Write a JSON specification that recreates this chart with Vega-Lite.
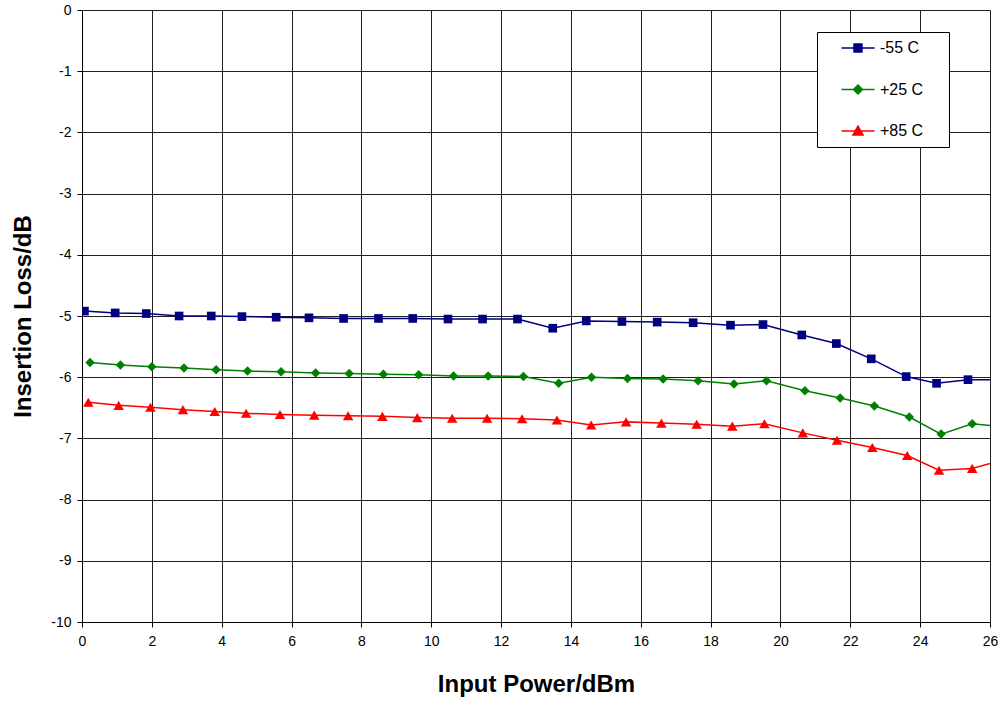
{
  "$schema": "https://vega.github.io/schema/vega-lite/v6.json",
  "width": 908,
  "height": 612,
  "autosize": "none",
  "padding": {"left": 82, "top": 10, "right": 12, "bottom": 80},
  "background": "#ffffff",
  "config": {
    "view": {"stroke": null},
    "font": "Liberation Sans"
  },
  "data": {
    "values": [
      {"t": "-55 C", "p": 0.07, "il": -4.92},
      {"t": "-55 C", "p": 0.95, "il": -4.95},
      {"t": "-55 C", "p": 1.84, "il": -4.96},
      {"t": "-55 C", "p": 2.78, "il": -5.0},
      {"t": "-55 C", "p": 3.7, "il": -5.0},
      {"t": "-55 C", "p": 4.58, "il": -5.01},
      {"t": "-55 C", "p": 5.56, "il": -5.02},
      {"t": "-55 C", "p": 6.5, "il": -5.03},
      {"t": "-55 C", "p": 7.49, "il": -5.04},
      {"t": "-55 C", "p": 8.49, "il": -5.04},
      {"t": "-55 C", "p": 9.47, "il": -5.04},
      {"t": "-55 C", "p": 10.48, "il": -5.05},
      {"t": "-55 C", "p": 11.47, "il": -5.05},
      {"t": "-55 C", "p": 12.47, "il": -5.05},
      {"t": "-55 C", "p": 13.48, "il": -5.2},
      {"t": "-55 C", "p": 14.44, "il": -5.08},
      {"t": "-55 C", "p": 15.46, "il": -5.09},
      {"t": "-55 C", "p": 16.47, "il": -5.1},
      {"t": "-55 C", "p": 17.5, "il": -5.11},
      {"t": "-55 C", "p": 18.57, "il": -5.15},
      {"t": "-55 C", "p": 19.5, "il": -5.14},
      {"t": "-55 C", "p": 20.61, "il": -5.31},
      {"t": "-55 C", "p": 21.6, "il": -5.45},
      {"t": "-55 C", "p": 22.6, "il": -5.7},
      {"t": "-55 C", "p": 23.6, "il": -5.99},
      {"t": "-55 C", "p": 24.47, "il": -6.1},
      {"t": "-55 C", "p": 25.37, "il": -6.04},
      {"t": "-55 C", "p": 26.3, "il": -6.04},
      {"t": "+25 C", "p": 0.23, "il": -5.76},
      {"t": "+25 C", "p": 1.1, "il": -5.8},
      {"t": "+25 C", "p": 2.0, "il": -5.83},
      {"t": "+25 C", "p": 2.92, "il": -5.85},
      {"t": "+25 C", "p": 3.84, "il": -5.88},
      {"t": "+25 C", "p": 4.74, "il": -5.9},
      {"t": "+25 C", "p": 5.7, "il": -5.91},
      {"t": "+25 C", "p": 6.69, "il": -5.93},
      {"t": "+25 C", "p": 7.65, "il": -5.94},
      {"t": "+25 C", "p": 8.63, "il": -5.95},
      {"t": "+25 C", "p": 9.64, "il": -5.96},
      {"t": "+25 C", "p": 10.64, "il": -5.98},
      {"t": "+25 C", "p": 11.63, "il": -5.98},
      {"t": "+25 C", "p": 12.64, "il": -5.99},
      {"t": "+25 C", "p": 13.65, "il": -6.1},
      {"t": "+25 C", "p": 14.59, "il": -6.0},
      {"t": "+25 C", "p": 15.62, "il": -6.02},
      {"t": "+25 C", "p": 16.64, "il": -6.03},
      {"t": "+25 C", "p": 17.64, "il": -6.06},
      {"t": "+25 C", "p": 18.67, "il": -6.11},
      {"t": "+25 C", "p": 19.6, "il": -6.06},
      {"t": "+25 C", "p": 20.7, "il": -6.22},
      {"t": "+25 C", "p": 21.71, "il": -6.34},
      {"t": "+25 C", "p": 22.69, "il": -6.47},
      {"t": "+25 C", "p": 23.69, "il": -6.65},
      {"t": "+25 C", "p": 24.6, "il": -6.93},
      {"t": "+25 C", "p": 25.49, "il": -6.76},
      {"t": "+25 C", "p": 26.4, "il": -6.81},
      {"t": "+85 C", "p": 0.18, "il": -6.41},
      {"t": "+85 C", "p": 1.05, "il": -6.46},
      {"t": "+85 C", "p": 1.96, "il": -6.49},
      {"t": "+85 C", "p": 2.89, "il": -6.53},
      {"t": "+85 C", "p": 3.8, "il": -6.56},
      {"t": "+85 C", "p": 4.7, "il": -6.59},
      {"t": "+85 C", "p": 5.67, "il": -6.61},
      {"t": "+85 C", "p": 6.65, "il": -6.62},
      {"t": "+85 C", "p": 7.62, "il": -6.63},
      {"t": "+85 C", "p": 8.6, "il": -6.64},
      {"t": "+85 C", "p": 9.6, "il": -6.66},
      {"t": "+85 C", "p": 10.6, "il": -6.67},
      {"t": "+85 C", "p": 11.6, "il": -6.67},
      {"t": "+85 C", "p": 12.6, "il": -6.68},
      {"t": "+85 C", "p": 13.6, "il": -6.7},
      {"t": "+85 C", "p": 14.58, "il": -6.78},
      {"t": "+85 C", "p": 15.58, "il": -6.73},
      {"t": "+85 C", "p": 16.59, "il": -6.75},
      {"t": "+85 C", "p": 17.6, "il": -6.77},
      {"t": "+85 C", "p": 18.62, "il": -6.8},
      {"t": "+85 C", "p": 19.54, "il": -6.76},
      {"t": "+85 C", "p": 20.64, "il": -6.91},
      {"t": "+85 C", "p": 21.62, "il": -7.03},
      {"t": "+85 C", "p": 22.63, "il": -7.15},
      {"t": "+85 C", "p": 23.63, "il": -7.28},
      {"t": "+85 C", "p": 24.54, "il": -7.52},
      {"t": "+85 C", "p": 25.49, "il": -7.49},
      {"t": "+85 C", "p": 26.4, "il": -7.35}
    ]
  },
  "encoding": {
    "x": {
      "field": "p",
      "type": "quantitative",
      "title": "Input Power/dBm",
      "scale": {"domain": [0, 26], "nice": false, "zero": false},
      "axis": {
        "values": [0, 2, 4, 6, 8, 10, 12, 14, 16, 18, 20, 22, 24, 26],
        "grid": true,
        "gridColor": "#202020",
        "gridWidth": 1,
        "domainColor": "#000000",
        "domainWidth": 1,
        "tickColor": "#000000",
        "tickSize": 5,
        "labelFont": "Liberation Sans",
        "labelFontSize": 14,
        "labelColor": "#000000",
        "labelPadding": 7,
        "labelFlush": false,
        "labelOverlap": false,
        "titleFont": "Liberation Sans",
        "titleFontSize": 24,
        "titleFontWeight": "bold",
        "titleColor": "#000000",
        "titleBaseline": "middle",
        "titleY": 62
      }
    },
    "y": {
      "field": "il",
      "type": "quantitative",
      "title": "Insertion Loss/dB",
      "scale": {"domain": [-10, 0], "nice": false, "zero": false},
      "axis": {
        "values": [-10, -9, -8, -7, -6, -5, -4, -3, -2, -1, 0],
        "labelExpr": "'' + datum.value",
        "grid": true,
        "gridColor": "#202020",
        "gridWidth": 1,
        "domainColor": "#000000",
        "domainWidth": 1,
        "tickColor": "#000000",
        "tickSize": 5,
        "labelFont": "Liberation Sans",
        "labelFontSize": 14,
        "labelColor": "#000000",
        "labelPadding": 6,
        "labelFlush": false,
        "labelOverlap": false,
        "titleFont": "Liberation Sans",
        "titleFontSize": 24,
        "titleFontWeight": "bold",
        "titleColor": "#000000",
        "titleBaseline": "middle",
        "titleAngle": -90,
        "titleX": -59,
        "titleY": 306
      }
    },
    "color": {
      "field": "t",
      "type": "nominal",
      "scale": {"domain": ["-55 C", "+25 C", "+85 C"], "range": ["#000080", "#008000", "#ff0000"]},
      "legend": {
        "orient": "none",
        "legendX": 735,
        "legendY": 22,
        "title": "\u00a0",
        "titleOrient": "right",
        "titlePadding": 18,
        "titleFontSize": 16,
        "titleFont": "Liberation Sans",
        "padding": 8,
        "strokeColor": "#000000",
        "fillColor": "#ffffff",
        "symbolSize": 100,
        "symbolOffset": 25,
        "labelOffset": 14,
        "rowPadding": 25.5,
        "labelFont": "Liberation Sans",
        "labelFontSize": 16,
        "labelColor": "#000000",
        "symbolStrokeWidth": 1.5,
        "encode": {
          "symbols": {
            "update": {
              "shape": {"signal": "datum.value === '-55 C' ? 'M-3.3,0H3.3M-0.8,-0.8H0.8V0.8H-0.8Z' : datum.value === '+25 C' ? 'M-3.3,0H3.3M0,-0.9L0.9,0L0,0.9L-0.9,0Z' : 'M-3.3,0H3.3M0,-1L1,0.8H-1Z'"},
              "stroke": {"signal": "scale('color', datum.value)"},
              "fill": {"signal": "scale('color', datum.value)"},
              "strokeWidth": {"value": 1.5}
            }
          }
        }
      }
    }
  },
  "layer": [
    {
      "mark": {"type": "line", "strokeWidth": 1.5, "clip": true}
    },
    {
      "transform": [{"filter": "datum.t === '-55 C'"}],
      "mark": {"type": "point", "shape": "square", "size": 75, "filled": true, "opacity": 1, "clip": true}
    },
    {
      "transform": [{"filter": "datum.t === '+25 C'"}],
      "mark": {"type": "point", "shape": "diamond", "size": 90, "filled": true, "opacity": 1, "clip": true}
    },
    {
      "transform": [{"filter": "datum.t === '+85 C'"}],
      "mark": {"type": "point", "shape": "triangle-up", "size": 110, "filled": true, "opacity": 1, "clip": true}
    }
  ]
}
